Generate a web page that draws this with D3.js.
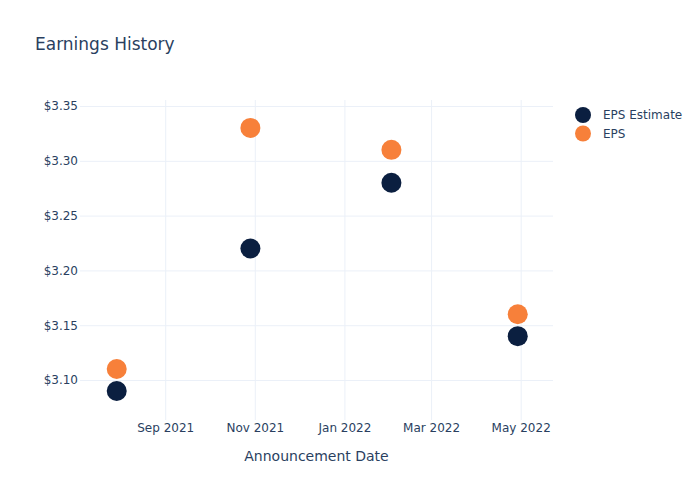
<!DOCTYPE html>
<html><head><meta charset="utf-8">
<script src="https://cdn.jsdelivr.net/npm/d3@7"></script>
<style>body{margin:0;background:#fff;} text{font-family:"DejaVu Sans",Verdana,sans-serif;}</style>
</head><body>
<svg id="c" width="700" height="500"></svg>
<script>
const dates = ["2021-07-30", "2021-10-29", "2022-02-02", "2022-04-29"];
const epsEstimate = [3.09, 3.22, 3.28, 3.14];
const eps = [3.11, 3.33, 3.31, 3.16];
const yTicks = [3.10, 3.15, 3.20, 3.25, 3.30, 3.35];
const xTicks = ["2021-09-01", "2021-11-01", "2022-01-01", "2022-03-01", "2022-05-01"];
const seriesNames = ["EPS Estimate", "EPS"];
const colors = ["#0b1f40", "#f7803a"];

const parse = d3.utcParse("%Y-%m-%d");
const svg = d3.select("#c");
const L = 80, R = 553, T = 100, B = 420;
const x = d3.scaleUtc().domain([parse("2021-07-05"), parse("2022-05-23")]).range([L, R]);
const y = d3.scaleLinear().domain([3.0635, 3.3555]).range([B, T]);
const ink = "#2a3f5f", grid = "#ebf0f8";

svg.append("text").attr("x", 35).attr("y", 50).attr("font-size", 17).attr("fill", ink).text("Earnings History");

// grid
const gy = svg.append("g").attr("transform", `translate(${L},0)`)
  .call(d3.axisLeft(y).tickValues(yTicks).tickSize(-(R - L)).tickPadding(6).tickFormat(d => "$" + d3.format(".2f")(d)));
gy.select(".domain").remove();
gy.selectAll("line").attr("stroke", grid);
gy.selectAll("text").attr("fill", ink).attr("font-size", 12).attr("x", -2);

const gx = svg.append("g").attr("transform", `translate(0,${B})`)
  .call(d3.axisBottom(x).tickValues(xTicks.map(parse)).tickSize(-(B - T)).tickPadding(10).tickFormat(d3.utcFormat("%b %Y")));
gx.select(".domain").remove();
gx.selectAll("line").attr("stroke", grid);
gx.selectAll("text").attr("fill", ink).attr("font-size", 12).attr("dy", "0.71em").attr("y", 3);

svg.append("text").attr("x", (L + R) / 2).attr("y", 461).attr("text-anchor", "middle")
  .attr("font-size", 14).attr("fill", ink).text("Announcement Date");

const series = [epsEstimate, eps];
series.forEach((vals, i) => {
  svg.append("g").selectAll("circle").data(vals).join("circle")
    .attr("cx", (d, j) => x(parse(dates[j])))
    .attr("cy", d => y(d))
    .attr("r", 10)
    .attr("fill", colors[i]);
});

// legend
const lg = svg.append("g");
seriesNames.forEach((n, i) => {
  lg.append("circle").attr("cx", 583).attr("cy", 115 + i * 18.5).attr("r", 8).attr("fill", colors[i]);
  lg.append("text").attr("x", 603).attr("y", 115 + i * 18.5).attr("dy", "0.35em")
    .attr("font-size", 12).attr("fill", ink).text(n);
});
</script>
</body></html>
